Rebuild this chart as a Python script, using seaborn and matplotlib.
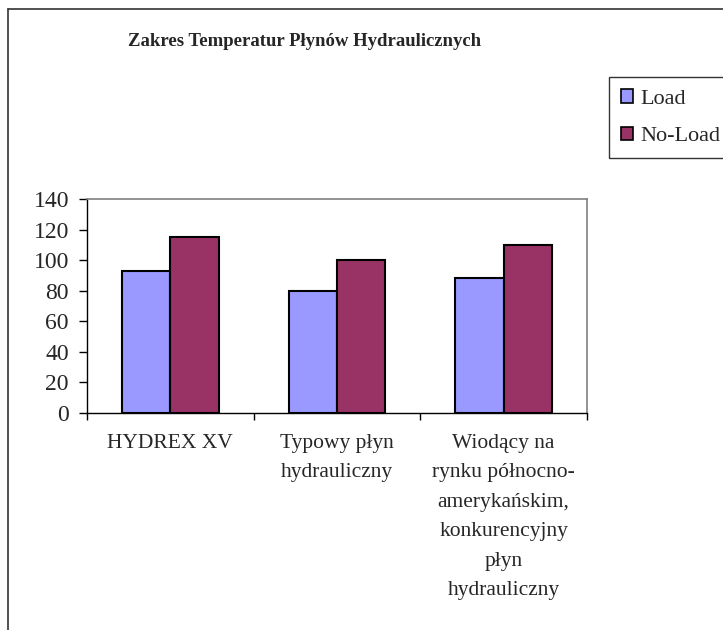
import pandas as pd
import matplotlib.pyplot as plt
import seaborn as sns

# Data
categories = ['HYDREX XV',
              'Typowy płyn\nhydrauliczny',
              'Wiodący na\nrynku północno-\namerykańskim,\nkonkurencyjny\npłyn\nhydrauliczny']
load = [93, 80, 88]
no_load = [115, 100, 110]
series = ['Load', 'No-Load']
colors = ['#9999FF', '#993366']

df = pd.DataFrame({
    'Produkt': categories * 2,
    'Temp': load + no_load,
    'Seria': [series[0]] * 3 + [series[1]] * 3,
})

sns.set_style("white")
plt.rcParams['font.family'] = ['Liberation Serif', 'DejaVu Serif']
plt.rcParams['font.size'] = 15

fig = plt.figure(figsize=(7.23, 6.3), dpi=100)
ax = fig.add_axes([87 / 723, 1 - 413 / 630, 500 / 723, 214 / 630])

sns.barplot(data=df, x='Produkt', y='Temp', hue='Seria', palette=colors,
            width=0.58, gap=0, edgecolor='black', linewidth=1.5, saturation=1,
            ax=ax, legend=False)

ax.set_xlim(-0.5, 2.5)
ax.set_ylim(0, 140)
ax.set_yticks(range(0, 141, 20))
ax.set_xlabel('')
ax.set_ylabel('')
ax.tick_params(axis='y', length=6, width=1, color='black', labelsize=17, pad=7, left=True)
ax.set_xticks([-0.5, 0.5, 1.5, 2.5], minor=False)
ax.set_xticklabels([])
ax.set_xticks([0, 1, 2], minor=True)
ax.set_xticklabels(categories, minor=True, fontsize=15.5, linespacing=1.75, va='top', ha='center')
ax.tick_params(axis='x', which='major', length=5, width=1, color='black', bottom=True, direction='out')
ax.tick_params(axis='x', which='minor', length=0, pad=15)

for side in ['top', 'right']:
    ax.spines[side].set_color('#808080')
    ax.spines[side].set_linewidth(1.2)
for side in ['left', 'bottom']:
    ax.spines[side].set_color('black')
    ax.spines[side].set_linewidth(1)

fig.text(305 / 723, 1 - 41 / 630, 'Zakres Temperatur Płynów Hydraulicznych',
         ha='center', va='center', fontsize=13.5, fontweight='bold')

# legend
handles = [plt.Rectangle((0, 0), 1, 1, facecolor=c, edgecolor='black', linewidth=1.2) for c in colors]
leg = fig.legend(handles, series, loc='upper left', bbox_to_anchor=(609 / 723, 1 - 77 / 630),
                 frameon=True, fancybox=False, fontsize=16, handlelength=0.55, handleheight=0.55,
                 handletextpad=0.3, labelspacing=0.8, borderpad=0.55, borderaxespad=0)
leg.get_frame().set_edgecolor('black')
leg.get_frame().set_linewidth(1)

# outer chart border
fig.add_artist(plt.Line2D([8 / 723, 8 / 723], [0, 1 - 9 / 630], color='#333333', linewidth=1.2))
fig.add_artist(plt.Line2D([8 / 723, 1], [1 - 9 / 630, 1 - 9 / 630], color='#333333', linewidth=1.2))

fig.savefig('out.png', dpi=100)
